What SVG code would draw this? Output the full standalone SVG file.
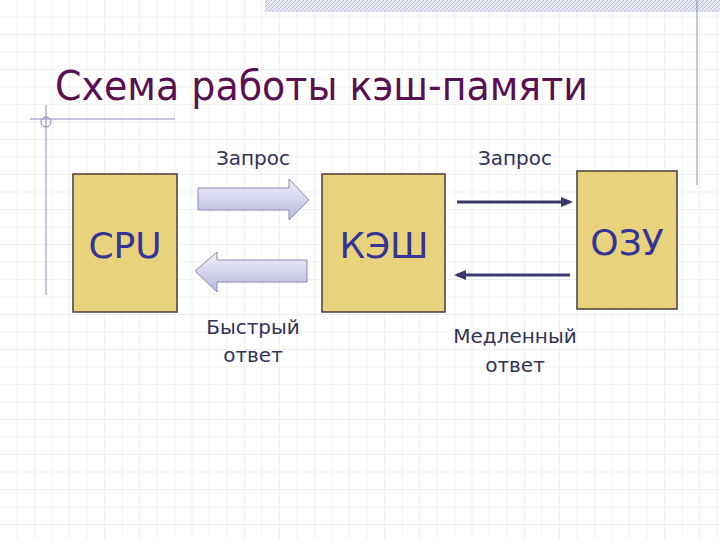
<svg xmlns="http://www.w3.org/2000/svg" width="720" height="540" viewBox="0 0 720 540">
<style>
.box{fill:#e8d27c;stroke:#4a3b3b;stroke-width:1.5}
.lbl{font-family:"DejaVu Sans",sans-serif;font-size:20px;fill:#333355;text-anchor:middle}
.nl{font-family:"DejaVu Sans",sans-serif;font-size:36px;fill:#333399;text-anchor:middle}
.fat{fill:url(#ag);stroke:#8a8ab0;stroke-width:1}
.thin{stroke:#3a3a6a;stroke-width:3;fill:none}
</style>
<defs>
<pattern id="grid" width="17.5" height="17.5" patternUnits="userSpaceOnUse">
<path d="M17.5 0V17.5H0" fill="none" stroke="#e4e4ec" stroke-width="1"/>
</pattern>
<pattern id="hatch" width="4" height="4" patternUnits="userSpaceOnUse">
<rect width="4" height="4" fill="#e6e8f4"/><path d="M0 4L4 0" stroke="#b8bcd8" stroke-width="1"/>
</pattern>
<linearGradient id="ag" x1="0" y1="0" x2="0" y2="1">
<stop offset="0" stop-color="#f0f0fa"/><stop offset="1" stop-color="#b8b8e0"/>
</linearGradient>
<marker id="ah" markerWidth="4" markerHeight="4" refX="3" refY="2" orient="auto" markerUnits="strokeWidth">
<path d="M0 0.3L4 2L0 3.7z" fill="#3a3a6a"/>
</marker>
</defs>
<rect width="720" height="540" fill="#fff"/>
<rect width="720" height="540" fill="url(#grid)"/>
<rect x="265" y="0" width="455" height="12" fill="url(#hatch)"/>
<line x1="697" y1="0" x2="697" y2="185" stroke="#8a8ab8" stroke-width="1"/>
<line x1="30" y1="119" x2="175" y2="119" stroke="#8a8ab8" stroke-width="1"/>
<line x1="46" y1="105" x2="46" y2="295" stroke="#8a8ab8" stroke-width="1"/>
<circle cx="46" cy="122" r="5" fill="none" stroke="#8a8ab8"/>
<text x="55" y="100" font-family="DejaVu Sans,sans-serif" font-size="40" fill="#5a0f50" textLength="533" lengthAdjust="spacingAndGlyphs">Схема работы кэш-памяти</text>
<g id="connectors">
<path class="fat" d="M198 188H289V179L309 200L289 220V210H198Z"/>
<path class="fat" d="M307 260H217V252L195 271L217 292V282H307Z"/>
<line class="thin" x1="457" y1="202" x2="570" y2="202" marker-end="url(#ah)"/>
<line class="thin" x1="570" y1="275" x2="457" y2="275" marker-end="url(#ah)"/>
<text class="lbl" x="253" y="165">Запрос</text>
<text class="lbl" x="515" y="165">Запрос</text>
<text class="lbl" x="253" y="334">Быстрый</text>
<text class="lbl" x="253" y="362">ответ</text>
<text class="lbl" x="515" y="343">Медленный</text>
<text class="lbl" x="515" y="372">ответ</text>
</g>
<g id="cpu"><rect class="box" x="73" y="174" width="104" height="138"/><text class="nl" x="125" y="258">CPU</text></g>
<g id="cache"><rect class="box" x="322" y="174" width="123" height="138"/><text class="nl" x="384" y="258">КЭШ</text></g>
<g id="ram"><rect class="box" x="577" y="171" width="100" height="138"/><text class="nl" x="627" y="255">ОЗУ</text></g>
</svg>
